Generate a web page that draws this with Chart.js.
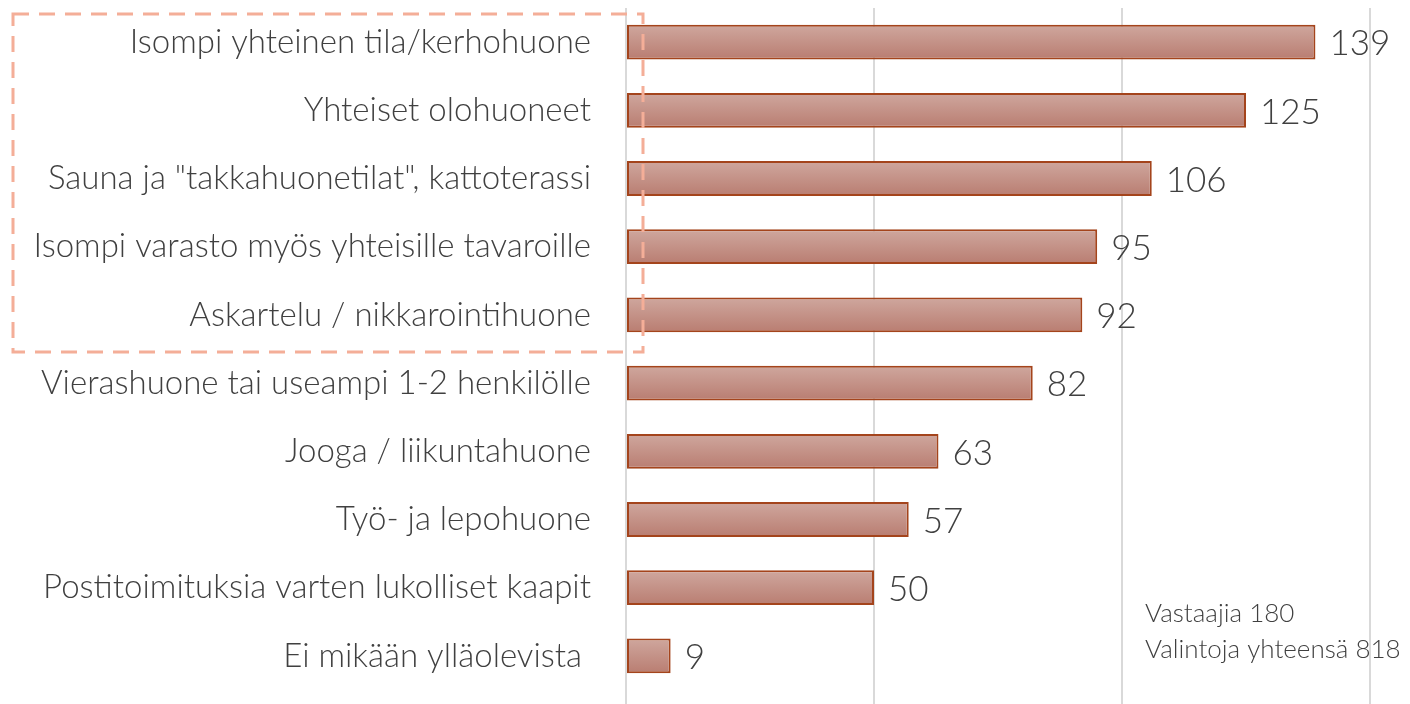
<!DOCTYPE html>
<html>
<head>
<meta charset="utf-8">
<script src="https://cdn.jsdelivr.net/npm/chart.js@4/dist/chart.umd.min.js"></script>
<style>
  html, body { margin: 0; padding: 0; background: #fff; }
  #wrap { width: 1410px; height: 704px; position: relative; }
</style>
</head>
<body>
<div id="wrap"><canvas id="myChart" width="1410" height="704"></canvas></div>
<script>
const categories = [
    'Isompi yhteinen tila/kerhohuone',
    'Yhteiset olohuoneet',
    'Sauna ja "takkahuonetilat", kattoterassi',
    'Isompi varasto myös yhteisille tavaroille',
    'Askartelu / nikkarointihuone',
    'Vierashuone tai useampi 1-2 henkilölle',
    'Jooga / liikuntahuone',
    'Työ- ja lepohuone',
    'Postitoimituksia varten lukolliset kaapit',
    'Ei mikään ylläolevista '
];
const counts = [139, 125, 106, 95, 92, 82, 63, 57, 50, 9];
const xTicks = [0, 50, 100, 150];
const noteLines = ['Vastaajia 180', 'Valintoja yhteensä 818'];

const FONT = 'Lato, "Open Sans", sans-serif';
const ctx = document.getElementById('myChart').getContext('2d');

// gradient fill per bar (top light -> bottom darker), set once bars are positioned
const barGradient = {
    id: 'barGradient',
    beforeDatasetsDraw(chart) {
        const meta = chart.getDatasetMeta(0);
        meta.data.forEach(bar => {
            const h = bar.height;
            const g = chart.ctx.createLinearGradient(0, bar.y - h / 2, 0, bar.y + h / 2);
            g.addColorStop(0, '#cfa79e');
            g.addColorStop(1, '#b97d71');
            bar.options.backgroundColor = g;
        });
    }
};

// value labels after each bar
const valueLabels = {
    id: 'valueLabels',
    afterDatasetsDraw(chart) {
        const c = chart.ctx;
        const meta = chart.getDatasetMeta(0);
        c.save();
        c.font = '300 35px ' + FONT;
        c.fillStyle = '#404040';
        c.textAlign = 'left';
        c.textBaseline = 'middle';
        meta.data.forEach((bar, i) => {
            c.fillText(counts[i], bar.x + 14, bar.y + 2);
        });
        c.restore();
    }
};

// gridlines run to the bottom edge, dashed box and note text
const extras = {
    id: 'extras',
    beforeDatasetsDraw(chart) {
        const c = chart.ctx;
        const xs = chart.scales.x;
        c.save();
        c.strokeStyle = '#d9d9d9';
        c.lineWidth = 2;
        xTicks.forEach(v => {
            const x = Math.round(xs.getPixelForValue(v));
            c.beginPath();
            c.moveTo(x, chart.chartArea.bottom);
            c.lineTo(x, chart.height);
            c.stroke();
        });
        c.restore();
    },
    afterDraw(chart) {
        const c = chart.ctx;
        c.save();
        c.strokeStyle = '#f4ae98';
        c.lineWidth = 3;
        c.setLineDash([16, 10]);
        c.strokeRect(13, 14, 630, 338);
        c.setLineDash([]);
        c.font = '300 26px ' + FONT;
        c.fillStyle = '#404040';
        c.textBaseline = 'middle';
        c.fillText(noteLines[0], 1145, 614);
        c.fillText(noteLines[1], 1145, 650);
        c.restore();
    }
};

const data = {
    labels: categories,
    datasets: [{
        data: counts,
        // scriptable so every bar keeps its own options object
        backgroundColor: () => '#c4918a',
        borderColor: '#a4441c',
        borderWidth: 2,
        borderSkipped: false,
        barPercentage: 0.51,
        categoryPercentage: 1.0
    }]
};

const myChart = new Chart(ctx, {
    type: 'bar',
    data: data,
    options: {
        indexAxis: 'y',
        responsive: false,
        animation: false,
        layout: { padding: { top: 8, bottom: 14, right: 40, left: 0 } },
        plugins: {
            legend: { display: false },
            tooltip: { enabled: false }
        },
        scales: {
            x: {
                min: 0,
                max: 150,
                afterFit(scale) { scale.height = 0; },
                ticks: { display: false, stepSize: 50 },
                grid: { color: '#d9d9d9', lineWidth: 2, drawTicks: false },
                border: { display: false }
            },
            y: {
                afterFit(scale) {
                    scale.width = 626;
                    scale.paddingTop = 0;
                    scale.paddingBottom = 0;
                },
                ticks: {
                    color: '#404040',
                    font: { family: FONT, size: 33, weight: '300' },
                    padding: 35
                },
                grid: { display: false, drawTicks: false },
                border: { display: false }
            }
        }
    },
    plugins: [barGradient, valueLabels, extras]
});
</script>
</body>
</html>
